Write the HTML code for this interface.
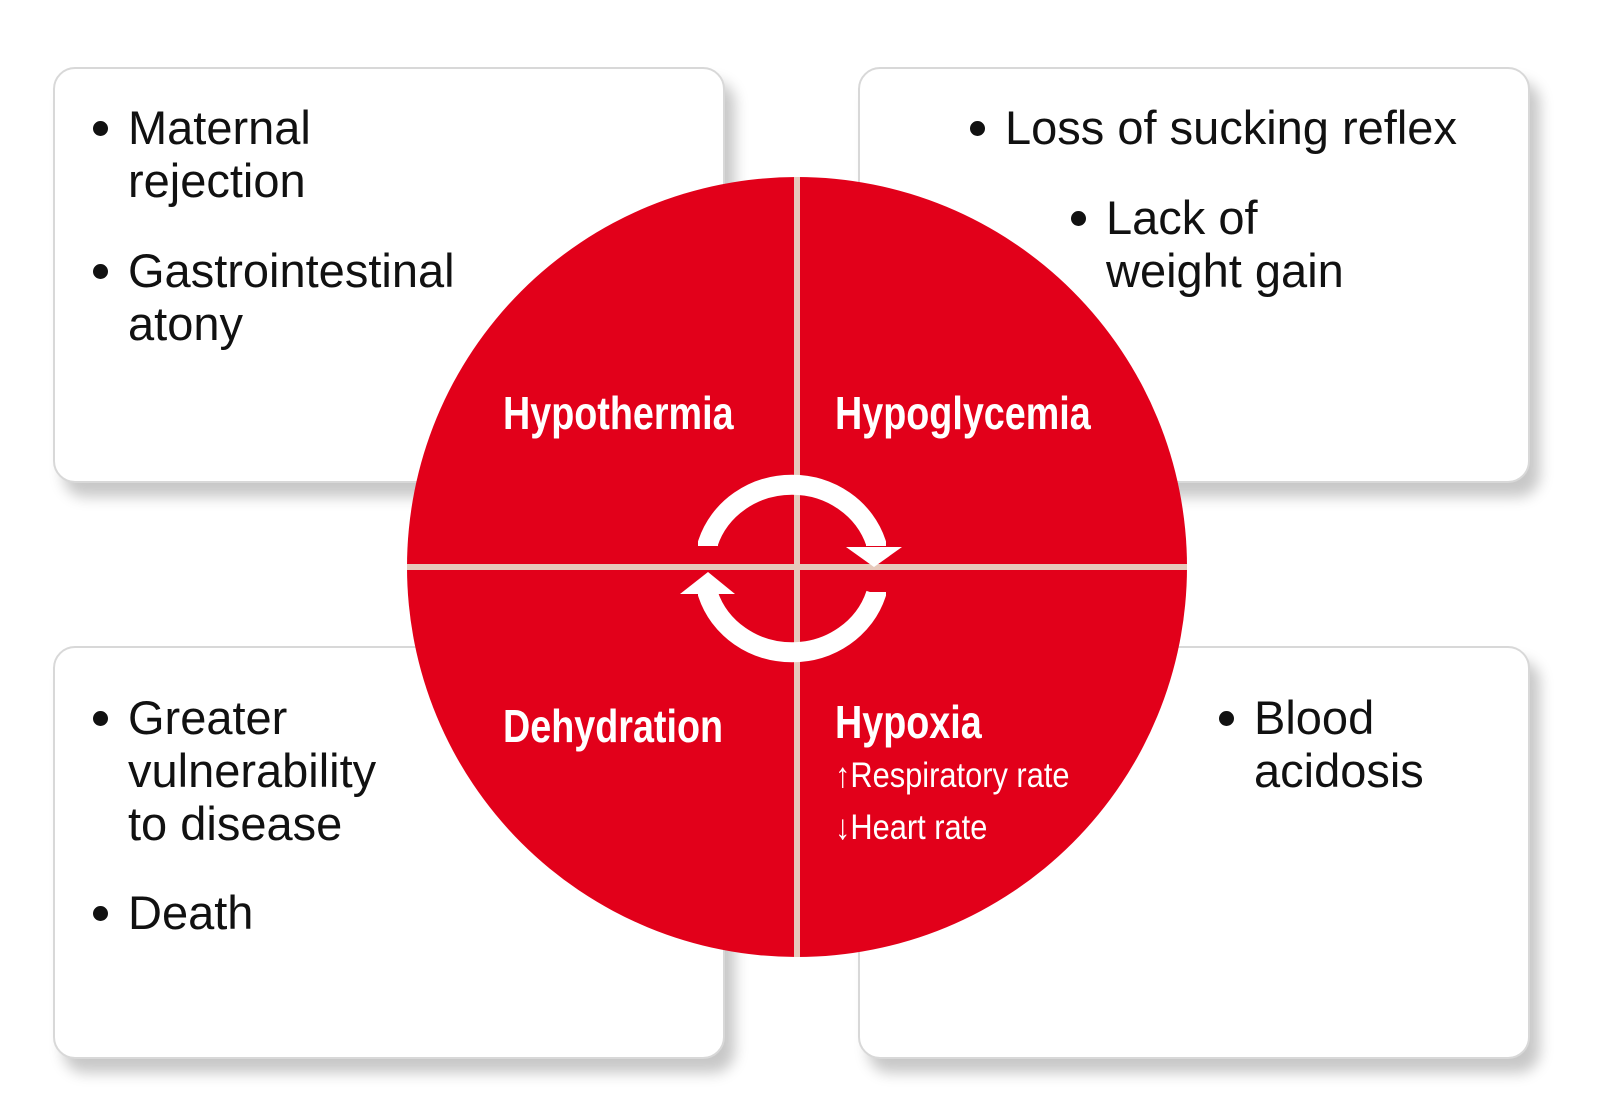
<!DOCTYPE html>
<html><head><style>
body{margin:0;width:1600px;height:1116px;background:#fff;position:relative;overflow:hidden;font-family:"Liberation Sans",sans-serif}
.box{position:absolute;width:672px;height:416px;background:#fff;border:2px solid #d8d8d8;border-radius:22px;box-sizing:border-box;box-shadow:10px 14px 14px rgba(0,0,0,0.22)}
.t{position:absolute;font-size:47px;line-height:53px;color:#111;white-space:nowrap}
.t .b{position:absolute;left:-35px;top:20px;width:15px;height:15px;border-radius:50%;background:#111}
.h{position:absolute;color:#fff;font-weight:bold;font-size:46px;white-space:nowrap;transform:scaleX(0.82);transform-origin:0 0}
.s{position:absolute;color:#fff;font-size:35px;white-space:nowrap;transform:scaleX(0.88);transform-origin:0 0}
</style></head><body>
<div class="box" style="left:53px;top:67px"></div>
<div class="box" style="left:858px;top:67px"></div>
<div class="box" style="left:53px;top:646px;height:413px"></div>
<div class="box" style="left:858px;top:646px;height:413px"></div>

<div class="t" style="left:128px;top:101px"><span class="b"></span>Maternal<br>rejection</div>
<div class="t" style="left:128px;top:244px"><span class="b"></span>Gastrointestinal<br>atony</div>
<div class="t" style="left:1005px;top:101px"><span class="b"></span>Loss of sucking reflex</div>
<div class="t" style="left:1106px;top:191px"><span class="b"></span>Lack of<br>weight gain</div>
<div class="t" style="left:128px;top:691px"><span class="b"></span>Greater<br>vulnerability<br>to disease</div>
<div class="t" style="left:128px;top:886px"><span class="b"></span>Death</div>
<div class="t" style="left:1254px;top:691px"><span class="b"></span>Blood<br>acidosis</div>

<svg style="position:absolute;left:0;top:0" width="1600" height="1116">
<circle cx="797" cy="567" r="390" fill="#e2001a"/>
<line x1="797" y1="177" x2="797" y2="957" stroke="#e6c9bb" stroke-width="6"/>
<line x1="407" y1="567" x2="1187" y2="567" stroke="#e6c9bb" stroke-width="6"/>
<path d="M708 546 L708 543 A88 83 0 0 1 876 543 L876 546" fill="none" stroke="#fff" stroke-width="20"/>
<polygon points="846,547 902,547 874,567" fill="#fff"/>
<path d="M876 592 L876 594 A88 83 0 0 1 708 594 L708 592" fill="none" stroke="#fff" stroke-width="20"/>
<polygon points="680,594 735,594 708,572" fill="#fff"/>
</svg>
<div class="h" style="left:503px;top:386px">Hypothermia</div>
<div class="h" style="left:835px;top:386px">Hypoglycemia</div>
<div class="h" style="left:503px;top:699px">Dehydration</div>
<div class="h" style="left:835px;top:695px">Hypoxia</div>
<div class="s" style="left:835px;top:756px">↑Respiratory rate</div>
<div class="s" style="left:835px;top:808px">↓Heart rate</div>
</body></html>
